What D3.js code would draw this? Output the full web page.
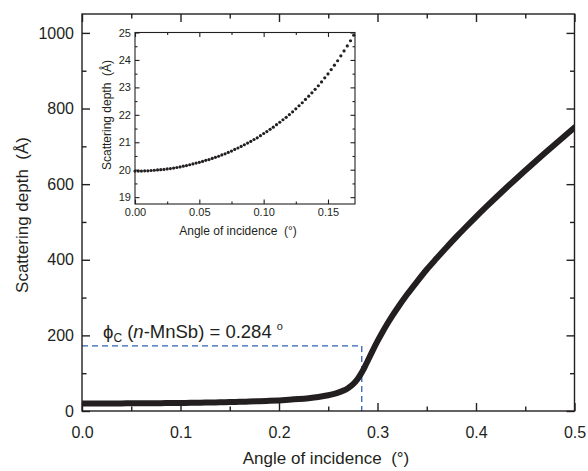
<!DOCTYPE html>
<html lang="en">
<head>
<meta charset="UTF-8">
<title>Scattering depth vs angle of incidence</title>
<script src="https://cdn.jsdelivr.net/npm/d3@7"></script>
<style>
  body { margin: 0; background: #fff; }
  svg text { font-family: "Liberation Sans", Arial, sans-serif; fill: #231f20; white-space: pre; }
</style>
</head>
<body>
<svg id="main" width="588" height="471"></svg>
<script>
// main curve
const mainAngle = [0, 0.01, 0.02, 0.03, 0.04, 0.05, 0.06, 0.07, 0.08, 0.09,
  0.10, 0.11, 0.12, 0.13, 0.14, 0.15, 0.16, 0.17, 0.18, 0.19,
  0.20, 0.21, 0.22, 0.23, 0.24, 0.25, 0.255, 0.26, 0.265, 0.27,
  0.275, 0.28, 0.284, 0.2875, 0.29, 0.295, 0.30, 0.305, 0.31, 0.315,
  0.32, 0.33, 0.34, 0.35, 0.36, 0.37, 0.38, 0.39, 0.40, 0.41,
  0.42, 0.43, 0.44, 0.45, 0.46, 0.47, 0.48, 0.49, 0.50];
const mainDepth = [19.95, 19.96, 20.00, 20.06, 20.15, 20.27, 20.41, 20.58, 20.79, 21.03,
  21.32, 21.64, 22.01, 22.44, 22.93, 23.49, 24.15, 24.90, 25.79, 26.84,
  28.09, 29.6, 31.5, 33.9, 37.1, 41.6, 44.6, 48.4, 53.4, 60.4,
  70.3, 85.2, 101.6, 119.0, 132.3, 159.1, 184.7, 208.5, 230.7, 251.6,
  271.2, 307.9, 341.8, 374.3, 403.8, 432.6, 460.4, 487.3, 513.5, 539.0,
  563.9, 588.4, 612.4, 636.0, 659.3, 682.3, 705.0, 727.5, 749.7];

// inset points
const insetAngle = [0, 0.0025, 0.005, 0.0075, 0.01, 0.0125, 0.015, 0.0175, 0.02, 0.0225,
  0.025, 0.0275, 0.03, 0.0325, 0.035, 0.0375, 0.04, 0.0425, 0.045, 0.0475,
  0.05, 0.0525, 0.055, 0.0575, 0.06, 0.0625, 0.065, 0.0675, 0.07, 0.0725,
  0.075, 0.0775, 0.08, 0.0825, 0.085, 0.0875, 0.09, 0.0925, 0.095, 0.0975,
  0.10, 0.1025, 0.105, 0.1075, 0.11, 0.1125, 0.115, 0.1175, 0.12, 0.1225,
  0.125, 0.1275, 0.13, 0.1325, 0.135, 0.1375, 0.14, 0.1425, 0.145, 0.1475,
  0.15, 0.1525, 0.155, 0.1575, 0.16, 0.1625, 0.165, 0.1675, 0.17];
const insetDepth = [19.95, 19.95, 19.95, 19.96, 19.96, 19.97, 19.98, 19.99, 20.00, 20.01,
  20.03, 20.04, 20.06, 20.08, 20.10, 20.13, 20.15, 20.18, 20.21, 20.24,
  20.27, 20.30, 20.34, 20.37, 20.41, 20.45, 20.49, 20.54, 20.58, 20.63,
  20.68, 20.74, 20.79, 20.85, 20.91, 20.97, 21.03, 21.10, 21.16, 21.24,
  21.32, 21.39, 21.47, 21.55, 21.64, 21.73, 21.82, 21.91, 22.01, 22.11,
  22.22, 22.33, 22.44, 22.56, 22.68, 22.80, 22.93, 23.06, 23.20, 23.35,
  23.49, 23.65, 23.81, 23.97, 24.15, 24.33, 24.51, 24.70, 24.90];

const mainXMajor = [0, 0.1, 0.2, 0.3, 0.4, 0.5];
const mainXMinor = [0.05, 0.15, 0.25, 0.35, 0.45];
const mainYMajor = [0, 200, 400, 600, 800, 1000];
const mainYMinor = [100, 300, 500, 700, 900];
const insetXMajor = [0, 0.05, 0.10, 0.15];
const insetXMinor = [0.025, 0.075, 0.125];
const insetYMajor = [19, 20, 21, 22, 23, 24, 25];
const insetYMinor = [19.5, 20.5, 21.5, 22.5, 23.5, 24.5];

const criticalAngle = 0.284;
const criticalDepth = 172;

const ink = '#231f20';
const svg = d3.select('svg#main');

// draws a boxed frame with inward ticks on all four sides
function frame(x, y, o) {
  const [x0, x1] = x.range();
  const [yb, yt] = y.range();
  const g = svg.append('g');

  function put(axis, tx, ty) {
    const a = g.append('g').attr('transform', `translate(${tx},${ty})`).call(axis);
    a.select('.domain').remove();
    a.selectAll('line').attr('stroke', ink).attr('stroke-width', o.sw);
    a.attr('font-size', o.fs).attr('font-family', null);
    a.selectAll('text').attr('fill', ink);
    return a;
  }

  put(d3.axisBottom(x).tickValues(o.xMajor).tickSize(-o.major).tickSizeOuter(0).tickPadding(o.xPad).tickFormat(o.xFmt), 0, yb);
  put(d3.axisBottom(x).tickValues(o.xMinor).tickSize(-o.minor).tickSizeOuter(0).tickFormat(''), 0, yb);
  put(d3.axisTop(x).tickValues(o.xMajor).tickSize(-o.major).tickSizeOuter(0).tickFormat(''), 0, yt);
  put(d3.axisTop(x).tickValues(o.xMinor).tickSize(-o.minor).tickSizeOuter(0).tickFormat(''), 0, yt);
  put(d3.axisLeft(y).tickValues(o.yMajor).tickSize(-o.major).tickSizeOuter(0).tickPadding(o.yPad).tickFormat(o.yFmt), x0, 0);
  put(d3.axisLeft(y).tickValues(o.yMinor).tickSize(-o.minor).tickSizeOuter(0).tickFormat(''), x0, 0);
  put(d3.axisRight(y).tickValues(o.yMajor).tickSize(-o.major).tickSizeOuter(0).tickFormat(''), x1, 0);
  put(d3.axisRight(y).tickValues(o.yMinor).tickSize(-o.minor).tickSizeOuter(0).tickFormat(''), x1, 0);

  g.append('rect')
    .attr('x', x0).attr('y', yt)
    .attr('width', x1 - x0).attr('height', yb - yt)
    .attr('fill', 'none').attr('stroke', ink).attr('stroke-width', o.sw);
  return g;
}

// ---- main plot ----
const x = d3.scaleLinear().domain([0, 0.5]).range([82, 574.5]);
const y = d3.scaleLinear().domain([0, 1050]).range([411, 14]);

svg.append('clipPath').attr('id', 'plotclip')
  .append('rect').attr('x', 82).attr('y', 14).attr('width', 492.5).attr('height', 397);

const mainData = mainAngle.map((a, i) => [a, mainDepth[i]]);

// critical angle guide
const guide = svg.append('g')
  .attr('stroke', '#2f63b5').attr('stroke-width', 1.3)
  .attr('stroke-dasharray', '6,4').attr('fill', 'none');
guide.append('line')
  .attr('x1', x(0)).attr('x2', x(criticalAngle))
  .attr('y1', y(criticalDepth)).attr('y2', y(criticalDepth));
guide.append('line')
  .attr('x1', x(criticalAngle)).attr('x2', x(criticalAngle))
  .attr('y1', y(criticalDepth)).attr('y2', y(0));

svg.append('path')
  .datum(mainData)
  .attr('clip-path', 'url(#plotclip)')
  .attr('fill', 'none')
  .attr('stroke', ink)
  .attr('stroke-width', 6)
  .attr('stroke-linecap', 'round')
  .attr('stroke-linejoin', 'round')
  .attr('d', d3.line().x(d => x(d[0])).y(d => y(d[1])).curve(d3.curveMonotoneX));

frame(x, y, {
  xMajor: mainXMajor, xMinor: mainXMinor, yMajor: mainYMajor, yMinor: mainYMinor,
  major: 8, minor: 4.5, sw: 1.4, fs: 16, xPad: 16, yPad: 8,
  xFmt: d3.format('.1f'), yFmt: d3.format('d')
});

const ann = svg.append('text').attr('x', 103).attr('y', 338).attr('font-size', 18.5);
ann.append('tspan').text('\u03d5');
ann.append('tspan').attr('dy', 4).attr('font-size', 12).text('C');
ann.append('tspan').attr('dy', -4).text(' (');
ann.append('tspan').attr('font-style', 'italic').text('n');
ann.append('tspan').text('-MnSb) = 0.284 ');
ann.append('tspan').attr('dy', -8).attr('font-size', 11).text('o');

svg.append('text')
  .attr('transform', 'translate(22,215) rotate(-90)')
  .attr('text-anchor', 'middle').attr('dominant-baseline', 'central')
  .attr('font-size', 17)
  .text('Scattering depth  (\u00c5)');
svg.append('text')
  .attr('x', 326).attr('y', 458)
  .attr('text-anchor', 'middle').attr('dominant-baseline', 'central')
  .attr('font-size', 17)
  .text('Angle of incidence  (\u00b0)');

// ---- inset ----
const xi = d3.scaleLinear().domain([0, 0.171]).range([135, 355]);
const yi = d3.scaleLinear().domain([18.75, 25]).range([204, 32.5]);

svg.append('rect').attr('x', 135).attr('y', 32.5).attr('width', 220).attr('height', 171.5).attr('fill', '#fff');

svg.append('g').selectAll('circle')
  .data(insetAngle.map((a, i) => [a, insetDepth[i]]))
  .join('circle')
  .attr('cx', d => xi(d[0]))
  .attr('cy', d => yi(d[1]))
  .attr('r', 1.6)
  .attr('fill', ink);

frame(xi, yi, {
  xMajor: insetXMajor, xMinor: insetXMinor, yMajor: insetYMajor, yMinor: insetYMinor,
  major: 4.5, minor: 2.5, sw: 1.1, fs: 11, xPad: 4, yPad: 4,
  xFmt: d3.format('.2f'), yFmt: d3.format('d')
});

svg.append('text')
  .attr('transform', 'translate(107,115) rotate(-90)')
  .attr('text-anchor', 'middle').attr('dominant-baseline', 'central')
  .attr('font-size', 12)
  .text('Scattering depth  (\u00c5)');
svg.append('text')
  .attr('x', 238).attr('y', 231)
  .attr('text-anchor', 'middle').attr('dominant-baseline', 'central')
  .attr('font-size', 12)
  .text('Angle of incidence  (\u00b0)');
</script>
</body>
</html>
